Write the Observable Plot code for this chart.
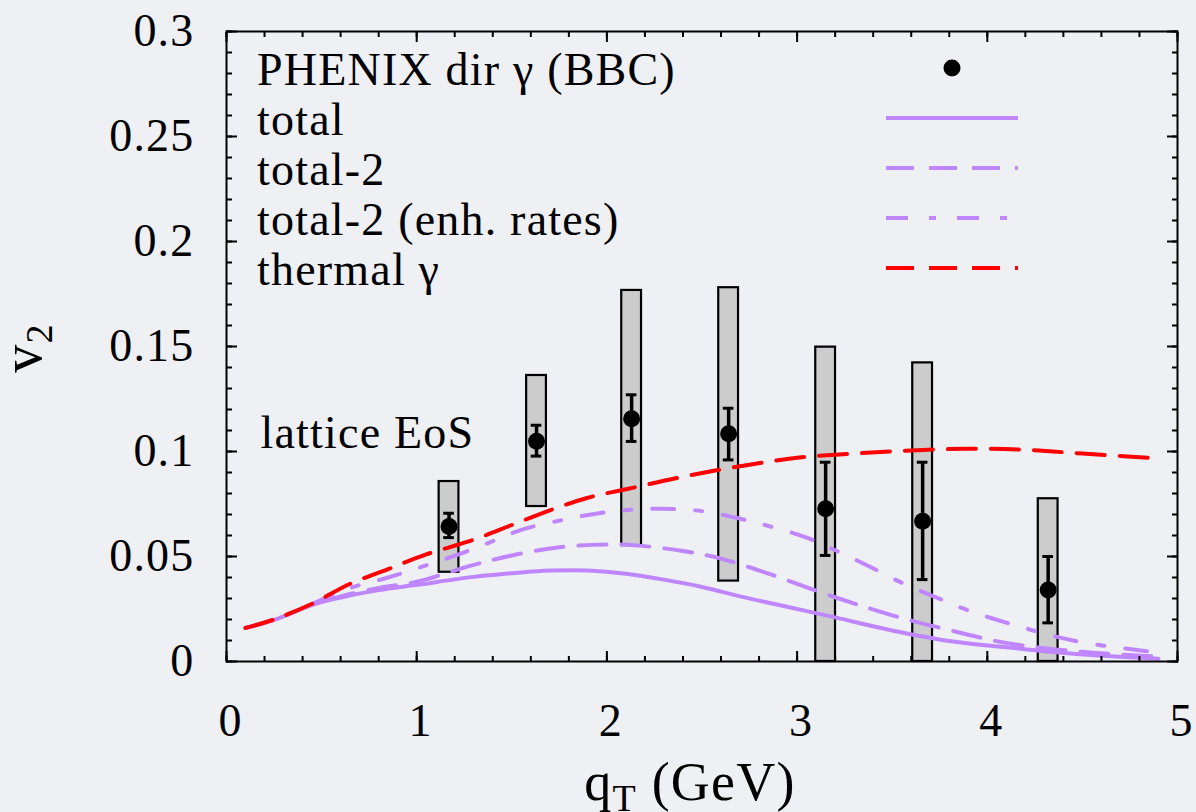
<!DOCTYPE html>
<html><head><meta charset="utf-8">
<script src="https://cdn.jsdelivr.net/npm/d3@7"></script>
<script src="https://cdn.jsdelivr.net/npm/@observablehq/plot@0.6"></script>
<style>
html,body{margin:0;padding:0;background:#eef0f4;}
#chart{position:relative;width:1196px;height:812px;overflow:hidden;}
#chart svg text{letter-spacing:1.2px;}
</style></head><body><div id="chart"></div>
<script>
// PHENIX direct photon v2 (BBC)
const qT     = [1.17, 1.63, 2.13, 2.64, 3.15, 3.66, 4.32];
const v2     = [0.0643, 0.1049, 0.1156, 0.1084, 0.0727, 0.0668, 0.0341];
const statLo = [0.0590, 0.0978, 0.1048, 0.0960, 0.0505, 0.0390, 0.0184];
const statHi = [0.0706, 0.1125, 0.1270, 0.1206, 0.0949, 0.0949, 0.0500];
const sysLo  = [0.0425, 0.0738, 0.0552, 0.0383, 0.0, 0.0, 0.0];
const sysHi  = [0.0857, 0.1362, 0.1767, 0.1780, 0.1497, 0.1422, 0.0775];

// total
const totalX = [0.1, 0.25, 0.45, 0.6, 0.8, 1.0, 1.3, 1.5, 1.7, 1.9, 2.1, 2.3, 2.5, 2.7, 2.9, 3.2, 3.5, 3.8, 4.1, 4.45, 4.9];
const totalY = [0.016, 0.0198, 0.027, 0.0305, 0.034, 0.0365, 0.0403, 0.042, 0.0433, 0.0433, 0.0418, 0.039, 0.0355, 0.031, 0.027, 0.021, 0.0148, 0.0098, 0.0068, 0.0037, 0.0013];
// total-2
const tot2X = [0.1, 0.25, 0.45, 0.6, 0.8, 1.0, 1.3, 1.5, 1.75, 2.0, 2.15, 2.4, 2.6, 2.85, 3.2, 3.5, 3.8, 4.1, 4.5, 4.88];
const tot2Y = [0.016, 0.0198, 0.027, 0.031, 0.035, 0.038, 0.046, 0.0505, 0.0544, 0.0557, 0.0553, 0.0526, 0.049, 0.0418, 0.0306, 0.022, 0.015, 0.0088, 0.0046, 0.0024];
// total-2 (enh. rates)
const enhX = [0.1, 0.25, 0.45, 0.65, 0.85, 1.05, 1.25, 1.4, 1.55, 1.75, 1.95, 2.12, 2.3, 2.5, 2.7, 2.86, 3.05, 3.2, 3.37, 3.55, 3.75, 3.9, 4.1, 4.45, 4.85];
const enhY = [0.016, 0.0198, 0.0275, 0.035, 0.040, 0.0458, 0.052, 0.0573, 0.0627, 0.0671, 0.0705, 0.0722, 0.0727, 0.0716, 0.068, 0.0643, 0.059, 0.053, 0.0457, 0.0375, 0.0298, 0.0243, 0.0185, 0.010, 0.0048];
// thermal gamma
const thermX = [0.1, 0.25, 0.45, 0.65, 0.85, 1.05, 1.3, 1.5, 1.7, 1.9, 2.1, 2.4, 2.7, 3.0, 3.3, 3.6, 3.9, 4.2, 4.5, 4.85];
const thermY = [0.016, 0.020, 0.0275, 0.037, 0.044, 0.051, 0.058, 0.065, 0.072, 0.078, 0.082, 0.088, 0.093, 0.097, 0.099, 0.1005, 0.1013, 0.1008, 0.099, 0.097];

const xMajor = [0, 1, 2, 3, 4, 5];
const xLabels = ["0", "1", "2", "3", "4", "5"];
const yMajor = [0, 0.05, 0.1, 0.15, 0.2, 0.25, 0.3];
const yLabels = ["0", "0.05", "0.1", "0.15", "0.2", "0.25", "0.3"];
const xMinor = d3.range(0, 51, 2).map(v => v / 10);
const yMinor = d3.range(0, 31).map(v => v / 100);

const legendLabels = ["PHENIX dir \u03b3 (BBC)", "total", "total-2", "total-2 (enh. rates)", "thermal \u03b3"];

const points = qT.map((x, i) => ({x, y: v2[i], lo: statLo[i], hi: statHi[i], slo: sysLo[i], shi: sysHi[i]}));
const toRows = (xs, ys) => xs.map((x, i) => ({x, y: ys[i]}));

const W = 1196, H = 812, ML = 226, MR = 19, MT = 31, MB = 151;
const PURPLE = "#bf86ff";
const RED = "#ff0000";
const BOXW = 0.052, CAP = 0.028;
const FONT = "'Liberation Serif', 'Times New Roman', serif";
const TICK = {label: null, tickFormat: () => "", stroke: "black", strokeWidth: 2};

const plot = Plot.plot({
  width: W, height: H,
  marginLeft: ML, marginRight: MR, marginTop: MT, marginBottom: MB,
  x: {domain: [0, 5]},
  y: {domain: [0, 0.3]},
  style: {background: "transparent", fontFamily: FONT, fontSize: "46px", color: "black", overflow: "visible"},
  marks: [
    Plot.rect(points, {x1: d => d.x - BOXW, x2: d => d.x + BOXW, y1: "slo", y2: "shi", fill: "#cccccc", stroke: "black", strokeWidth: 2.2}),
    Plot.line(toRows(totalX, totalY), {x: "x", y: "y", stroke: PURPLE, strokeWidth: 4, curve: "catmull-rom"}),
    Plot.line(toRows(tot2X, tot2Y), {x: "x", y: "y", stroke: PURPLE, strokeWidth: 4, strokeDasharray: "28,15", curve: "catmull-rom"}),
    Plot.line(toRows(enhX, enhY), {x: "x", y: "y", stroke: PURPLE, strokeWidth: 4, strokeDasharray: "22,21,7,21", curve: "catmull-rom"}),
    Plot.line(toRows(thermX, thermY), {x: "x", y: "y", stroke: RED, strokeWidth: 4, strokeDasharray: "28,15", curve: "catmull-rom"}),
    Plot.ruleX(points, {x: "x", y1: "lo", y2: "hi", stroke: "black", strokeWidth: 3.5}),
    Plot.ruleY(points, {y: "lo", x1: d => d.x - CAP, x2: d => d.x + CAP, stroke: "black", strokeWidth: 3}),
    Plot.ruleY(points, {y: "hi", x1: d => d.x - CAP, x2: d => d.x + CAP, stroke: "black", strokeWidth: 3}),
    Plot.dot(points, {x: "x", y: "y", r: 8.5, fill: "black"}),
    Plot.frame({stroke: "black", strokeWidth: 2}),
    // inward ticks on all four sides
    Plot.axisY(yMinor, {...TICK, anchor: "left", tickSize: -6}),
    Plot.axisY(yMajor, {...TICK, anchor: "left", tickSize: -11}),
    Plot.axisY(yMinor, {...TICK, anchor: "right", tickSize: -6}),
    Plot.axisY(yMajor, {...TICK, anchor: "right", tickSize: -11}),
    Plot.axisX(xMinor, {...TICK, anchor: "bottom", tickSize: -5}),
    Plot.axisX(xMajor, {...TICK, anchor: "bottom", tickSize: -10}),
    Plot.axisX(xMinor, {...TICK, anchor: "top", tickSize: -5}),
    Plot.axisX(xMajor, {...TICK, anchor: "top", tickSize: -10}),
    // tick labels
    Plot.axisY(yMajor, {anchor: "left", tickSize: 0, tickPadding: 32, tickFormat: (d, i) => yLabels[i], label: null}),
    Plot.axisX(xMajor, {anchor: "bottom", tickSize: 0, tickPadding: 42, dx: 4, tickFormat: (d, i) => xLabels[i], label: null}),
    // annotation
    Plot.text(["lattice EoS"], {frameAnchor: "top-left", text: d => d, textAnchor: "start", lineAnchor: "bottom", dx: 34, dy: 416, fontSize: 46})
  ]
});

document.getElementById("chart").appendChild(plot);

const svg = d3.select(plot);
// axis titles
const xt = svg.append("text").attr("x", 690).attr("y", 800).attr("text-anchor", "middle")
  .attr("font-family", FONT).attr("font-size", 54).attr("fill", "black");
xt.append("tspan").text("q");
xt.append("tspan").attr("font-size", 38).attr("dy", 11).text("T");
xt.append("tspan").attr("dy", -11).text(" (GeV)");

const yt = svg.append("text").attr("transform", "translate(41,348) rotate(-90)").attr("text-anchor", "middle")
  .attr("font-family", FONT).attr("font-size", 56).attr("fill", "black");
yt.append("tspan").text("v");
yt.append("tspan").attr("font-size", 38).attr("dy", 11).text("2");

// legend
const lg = svg.append("g").attr("font-family", FONT).attr("font-size", 46).attr("fill", "black").attr("text-anchor", "start");
const rowY = i => 68 + 50 * i;
legendLabels.forEach((t, i) => {
  lg.append("text").attr("x", 257).attr("y", rowY(i) + 17).attr("text-anchor", "start").text(t);
});
lg.append("circle").attr("cx", 952).attr("cy", rowY(0)).attr("r", 8.5).attr("fill", "black");
const styles = [
  {stroke: PURPLE, dash: null},
  {stroke: PURPLE, dash: "28,15"},
  {stroke: PURPLE, dash: "22,21,7,21"},
  {stroke: RED, dash: "28,15"}
];
styles.forEach((s, j) => {
  const l = lg.append("line").attr("x1", 886).attr("x2", 1018).attr("y1", rowY(j + 1)).attr("y2", rowY(j + 1))
    .attr("stroke", s.stroke).attr("stroke-width", 4);
  if (s.dash) l.attr("stroke-dasharray", s.dash);
});
</script>
</body></html>
